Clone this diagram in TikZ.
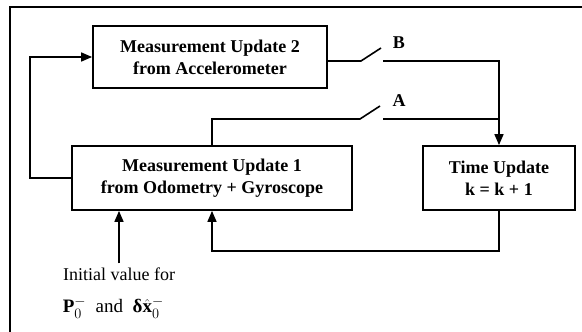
\documentclass[tikz,border=0pt]{standalone}
\usepackage{amsmath,amssymb}
\usepackage{fontspec}
\setmainfont{Liberation Serif}
\usetikzlibrary{arrows.meta,positioning,calc}

\begin{document}
\begin{tikzpicture}[x=1pt,y=-1pt,>={Triangle[length=11pt,width=9pt]},
  line width=1.6pt,
  blk/.style={draw,line width=1.8pt,align=center,inner sep=0pt,
    font=\fontsize{18}{22}\selectfont\bfseries},
  lbl/.style={font=\fontsize{18}{22}\selectfont\bfseries}]
  \clip (0,0) rectangle (582,332);
  \draw[line width=2.4pt] (10,340) |- (590,7);
  \node[blk,minimum width=234pt,minimum height=62pt] (M2) at (210,57)
    {Measurement Update 2\\from Accelerometer};
  \node[blk,minimum width=280pt,minimum height=64pt] (M1) at (212,178)
    {Measurement Update 1\\from Odometry + Gyroscope};
  \node[blk,minimum width=152pt,minimum height=64pt] (T) at (499,178)
    {Time Update\\k = k + 1};
  \node[font=\fontsize{18}{22}\selectfont] (init) at (119,274) {Initial value for};
  \node[font=\fontsize{19}{22}\selectfont,anchor=west,inner sep=0pt] (val) at (62,308)
    {$\mathbf{P}_0^-\;\text{ and }\;\text{\textbf{δ}}\hat{\mathbf{x}}_0^-$};
  % switches
  \coordinate (sB) at (361,61);
  \coordinate (sA) at (360,119);
  \coordinate (jA) at (T.north |- sA);
  \draw (M2.east |- sB) -- (sB) -- ++(20,-13);
  \draw (M1.north) |- (sA) -- ++(20,-13);
  \node[lbl] (B) at (399,43) {B};
  \node[lbl] (A) at (399,101) {A};
  \draw ($(sB)+(22,0)$) -| (jA);
  \draw[->] ($(sA)+(23,0)$) -- (jA) -- (T.north);
  % loops
  \draw[->] (T.south) -- ++(0,40) -| (M1.south);
  \draw[->] (M1.west) -- ++(-41,0) |- (M2.west);
  \draw[->] (init.north) -- (init.north |- M1.south);
\end{tikzpicture}
\end{document}
